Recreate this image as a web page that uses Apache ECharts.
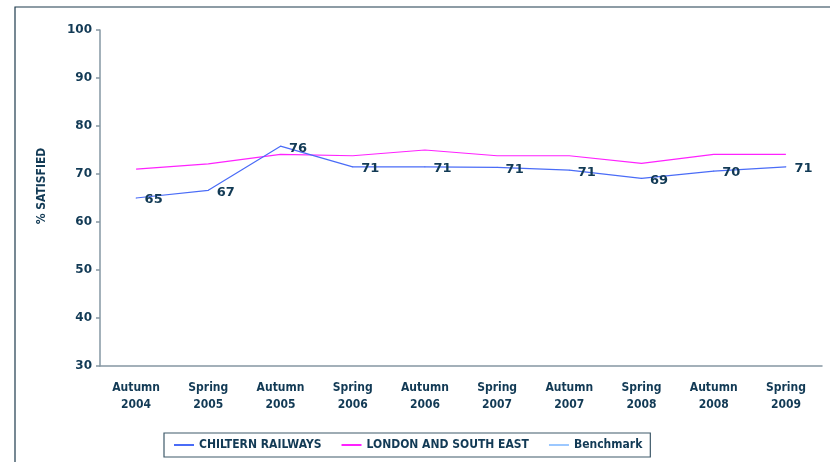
<!DOCTYPE html>
<html>
<head>
<meta charset="utf-8">
<script src="https://cdn.jsdelivr.net/npm/echarts@6/dist/echarts.min.js"></script>
<style>
  html, body { margin: 0; padding: 0; background: #fff; }
  #chart { width: 830px; height: 462px; }
</style>
</head>
<body>
<div id="chart"></div>
<script>
// survey waves
var waves = ['Autumn\n2004', 'Spring\n2005', 'Autumn\n2005', 'Spring\n2006', 'Autumn\n2006',
             'Spring\n2007', 'Autumn\n2007', 'Spring\n2008', 'Autumn\n2008', 'Spring\n2009'];
// % satisfied
var chiltern = [65, 66.6, 75.8, 71.5, 71.5, 71.4, 70.8, 69.1, 70.6, 71.5];
var chilternLabels = [65, 67, 76, 71, 71, 71, 71, 69, 70, 71];
var londonSE = [71.0, 72.1, 74.1, 73.8, 75.0, 73.8, 73.8, 72.2, 74.1, 74.1];
var benchmark = [];
var yTicks = [30, 40, 50, 60, 70, 80, 90, 100];

var navy = '#123a55';
var axisGrey = '#8597a3';
var blue = '#4a6cf7';
var font = 'DejaVu Sans';
var fontNarrow = 'DejaVu Sans Condensed';

var myChart = echarts.init(document.getElementById('chart'));
var option = {
    backgroundColor: '#fff',
    animation: false,
    textStyle: { fontFamily: font },
    graphic: [{
        type: 'rect',
        shape: { x: 15, y: 7, width: 900, height: 600 },
        style: { fill: 'none', stroke: '#1d3a4c', lineWidth: 1.2 },
        silent: true
    }],
    grid: { left: 100, right: 8, top: 30, bottom: 96 },
    legend: {
        left: 164,
        top: 433,
        padding: [6, 8, 6, 10],
        borderColor: '#3f5a6a',
        borderWidth: 1.2,
        borderRadius: 0,
        icon: 'rect',
        itemWidth: 20,
        itemHeight: 2,
        itemGap: 20,
        textStyle: { color: navy, fontWeight: 'bold', fontSize: 12, fontFamily: fontNarrow },
        data: ['CHILTERN RAILWAYS', 'LONDON AND SOUTH EAST', 'Benchmark']
    },
    xAxis: {
        type: 'category',
        data: waves,
        boundaryGap: true,
        axisLine: { lineStyle: { color: axisGrey, width: 1.5 } },
        axisTick: { length: 5, lineStyle: { color: axisGrey, width: 1.5 } },
        axisLabel: {
            color: navy, fontWeight: 'bold', fontSize: 12, lineHeight: 17, margin: 13,
            fontFamily: fontNarrow, interval: 0
        }
    },
    yAxis: {
        type: 'value',
        min: yTicks[0],
        max: yTicks[yTicks.length - 1],
        interval: 10,
        name: '% SATISFIED',
        nameLocation: 'middle',
        nameGap: 52,
        nameTextStyle: { color: navy, fontWeight: 'bold', fontSize: 12, fontFamily: fontNarrow, padding: [0, 0, 0, 24] },
        splitLine: { show: false },
        axisLine: { show: true, lineStyle: { color: axisGrey, width: 1.5 } },
        axisTick: { show: true, length: 4, lineStyle: { color: axisGrey, width: 1.5 } },
        axisLabel: { color: navy, fontWeight: 'bold', fontSize: 12, margin: 8, fontFamily: font }
    },
    series: [
        {
            name: 'CHILTERN RAILWAYS',
            type: 'line',
            data: chiltern,
            symbol: 'circle',
            symbolSize: 1,
            showSymbol: true,
            color: blue,
            itemStyle: { color: blue },
            lineStyle: { width: 1.2, color: blue },
            z: 3,
            label: {
                show: true,
                position: 'right',
                distance: 8,
                offset: [0, 2],
                color: navy,
                fontWeight: 'bold',
                fontSize: 13,
                fontFamily: font,
                formatter: function (p) { return chilternLabels[p.dataIndex]; }
            }
        },
        {
            name: 'LONDON AND SOUTH EAST',
            type: 'line',
            data: londonSE,
            symbol: 'none',
            color: '#ff22ff',
            lineStyle: { width: 1.2, color: '#ff22ff' },
            z: 2
        },
        {
            name: 'Benchmark',
            type: 'line',
            data: benchmark,
            symbol: 'none',
            color: '#9cc8ff',
            lineStyle: { width: 2, color: '#9cc8ff' }
        }
    ]
};
myChart.setOption(option);
</script>
</body>
</html>
